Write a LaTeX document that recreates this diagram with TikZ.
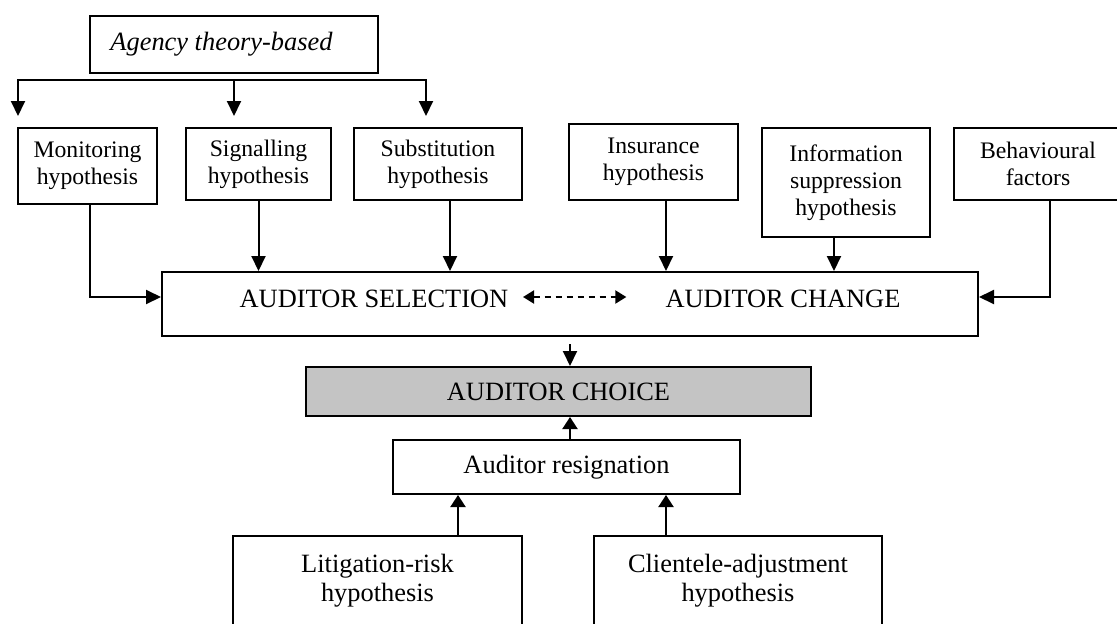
\documentclass[tikz,border=0pt]{standalone}
\usepackage{fontspec}
\setmainfont{Liberation Serif}
\usetikzlibrary{arrows.meta}
\newcommand\smallsz{\fontsize{23.7}{27}\selectfont}
\newcommand\largesz{\fontsize{26.4}{29}\selectfont}
\definecolor{choicegray}{RGB}{196,196,196}
\tikzset{
  box/.style={draw, line width=2pt, inner sep=0pt, align=center, font=\smallsz},
  wide/.style={box, font=\largesz},
  caption/.style={inner sep=0pt, font=\largesz},
  arr/.style={line width=2pt, -{Triangle[length=15pt,width=14pt]}},
  dasharr/.style={line width=2pt, dash pattern=on 6pt off 5pt,
    {Triangle[length=11pt,width=13pt]}-{Triangle[length=11pt,width=13pt]}},
}
\begin{document}
\begin{tikzpicture}[x=1pt, y=-1pt]
  \useasboundingbox (0,0) rectangle (1117,624);
  \clip (0,0) rectangle (1117,624);

  % top: agency family of hypotheses
  \node[wide, font=\largesz\itshape, minimum width=288pt, minimum height=57pt] (agency) at (234,44.5)
    {Agency theory-based\hspace*{25pt}};
  \node[box, minimum width=139pt, minimum height=76pt] (mon) at (87.5,166) {Monitoring\\hypothesis};
  \node[box, minimum width=145pt, minimum height=72pt] (sig) at (258.5,164) {Signalling\\hypothesis};
  \node[box, minimum width=168pt, minimum height=72pt] (sub) at (438,164) {Substitution\\hypothesis};

  % other hypotheses
  \node[box, minimum width=169pt, minimum height=76pt] (ins) at (653.5,162) {Insurance\\hypothesis};
  \node[box, minimum width=168pt, minimum height=109pt] (info) at (846,182.5) {Information\\suppression\\hypothesis};
  \node[box, minimum width=168pt, minimum height=72pt] (beh) at (1038,164) {Behavioural\\factors};

  % central box
  \node[draw, line width=2pt, minimum width=816pt, minimum height=64pt] (big) at (570,304) {};
  \node[caption, anchor=base] (sel) at (374,307) {AUDITOR SELECTION};
  \node[caption, anchor=base] (chg) at (783,307) {AUDITOR CHANGE};
  \coordinate (row) at (570,297);

  % outcome
  \node[wide, fill=choicegray, minimum width=505pt, minimum height=49pt] (choice) at (558.5,391.5) {AUDITOR CHOICE};
  \node[wide, minimum width=347pt, minimum height=54pt] (res) at (566.5,467) {Auditor resignation};
  \node[wide, minimum width=289pt, minimum height=90pt] (lit) at (377.5,581) {Litigation-risk\\hypothesis};
  \node[wide, minimum width=288pt, minimum height=90pt] (cli) at (738,581) {Clientele-adjustment\\hypothesis};

  % branching from the agency box
  \coordinate (bl) at (18,80);
  \coordinate (br) at (426,80);
  \coordinate (bm) at (agency.south |- bl);
  \draw[line width=2pt, {Triangle[length=15pt,width=14pt]}-{Triangle[length=15pt,width=14pt]},
        shorten <=11pt, shorten >=11pt] (bl |- mon.north) -- (bl) -- (br) -- (br |- sub.north);
  \draw[arr, shorten >=11pt] (bm) -- (bm |- sig.north);

  % into the central box
  \draw[arr] ([xshift=2.5pt]mon.south) |- (big.west |- row);
  \draw[arr] (sig.south) -- (sig.south |- big.north);
  \draw[arr] ([xshift=12pt]sub.south) -- ([xshift=12pt]sub.south |- big.north);
  \draw[arr] ([xshift=12.5pt]ins.south) -- ([xshift=12.5pt]ins.south |- big.north);
  \draw[arr] ([xshift=-12pt]info.south) -- ([xshift=-12pt]info.south |- big.north);
  \draw[arr] ([xshift=12pt]beh.south) |- (big.east |- row);
  \draw[dasharr, shorten <=14.5pt, shorten >=39pt] (sel.east |- row) -- (chg.west |- row);

  % down to the choice
  \draw[arr] ([yshift=-7pt]big.south) -- (big.south |- choice.north);
  \draw[arr, -{Triangle[length=12pt,width=15pt]}] (big.south |- res.north) -- (big.south |- choice.south);
  \draw[arr, -{Triangle[length=12pt,width=15pt]}] ([xshift=80.5pt]lit.north) -- ([xshift=80.5pt]lit.north |- res.south);
  \draw[arr, -{Triangle[length=12pt,width=15pt]}] ([xshift=-72pt]cli.north) -- ([xshift=-72pt]cli.north |- res.south);
\end{tikzpicture}
\end{document}
